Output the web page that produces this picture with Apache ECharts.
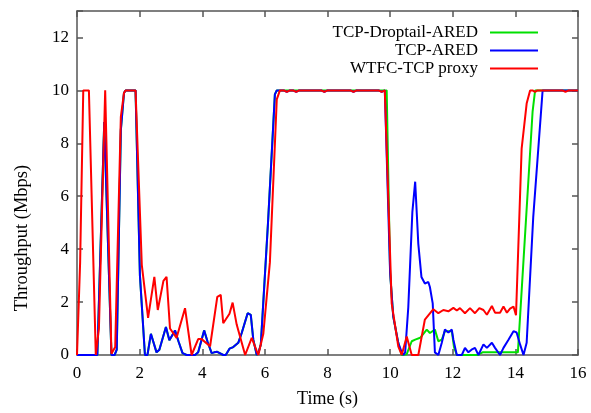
<!DOCTYPE html>
<html>
<head>
<meta charset="utf-8">
<script src="https://cdn.jsdelivr.net/npm/echarts@6/dist/echarts.min.js"></script>
<style>
html,body{margin:0;padding:0;background:#fff;}
#chart{width:591px;height:413px;}
</style>
</head>
<body>
<div id="chart"></div>
<script>
var seriesNames = ['TCP-Droptail-ARED', 'TCP-ARED', 'WTFC-TCP proxy'];
var xTicks = [0, 2, 4, 6, 8, 10, 12, 14, 16];
var yTicks = [0, 2, 4, 6, 8, 10, 12];

// WTFC-TCP proxy: [time (s), throughput (Mbps)]
var redData = [
  [0,0],[0.1,3.5],[0.2,10],[0.38,10],[0.6,0],[0.7,1],[0.9,10],[1.1,0.05],[1.22,0.3],[1.4,9],[1.5,9.9],[1.55,10],[1.87,10],
  [2.07,3.4],[2.27,1.4],[2.47,2.95],[2.58,1.7],[2.76,2.8],[2.86,2.95],[2.97,1.0],[3.18,0.65],[3.45,1.77],[3.66,0],
  [3.87,0.6],[3.98,0.6],[4.25,0.33],[4.48,2.2],[4.59,2.27],[4.67,1.2],[4.87,1.56],[4.97,1.98],[5.1,1.15],[5.37,0],
  [5.58,0.65],[5.79,0],[5.95,0.8],[6.16,3.5],[6.38,9.66],[6.48,10],[6.6,10],[6.7,9.94],[6.8,10],[6.9,10],[7.0,9.94],
  [7.1,10],[7.8,10],[7.9,9.94],[8.0,10],[8.73,10],[8.83,9.94],[8.93,10],[9.63,10],[9.73,9.94],[9.83,10],[9.89,10],
  [10.05,1.95],[10.26,0.33],[10.37,0],[10.53,0.7],[10.69,0],[10.9,0],[11.11,1.34],[11.38,1.73],[11.54,1.58],[11.7,1.7],
  [11.86,1.65],[12.02,1.78],[12.13,1.68],[12.23,1.77],[12.39,1.58],[12.55,1.77],[12.71,1.58],[12.85,1.77],[12.98,1.7],
  [13.09,1.52],[13.25,1.85],[13.35,1.6],[13.51,1.6],[13.62,1.83],[13.73,1.6],[13.83,1.75],[13.94,1.83],[14.02,1.5],
  [14.2,7.8],[14.36,9.5],[14.47,10],[14.55,10],[14.63,9.94],[14.7,10],[15.5,10],[15.6,9.94],[15.7,10],[16,10]
];

// TCP-ARED
var blueData = [
  [0,0],[0.65,0],[0.87,8.8],[1.1,0],[1.2,0],[1.27,0.2],[1.4,8.5],[1.5,9.9],[1.55,10],[1.87,10],[2.01,3.0],[2.17,0],
  [2.25,0],[2.36,0.8],[2.54,0.1],[2.63,0.2],[2.84,1.06],[2.95,0.56],[3.13,0.93],[3.24,0.52],[3.37,0.07],[3.5,0],
  [3.77,0],[3.87,0.1],[4.06,0.93],[4.17,0.5],[4.3,0.07],[4.38,0.1],[4.48,0.12],[4.67,0],[4.75,0],[4.87,0.24],
  [4.99,0.3],[5.15,0.46],[5.26,0.83],[5.45,1.58],[5.55,1.52],[5.63,0.58],[5.74,0],[5.8,0.1],[5.87,0.4],[6.1,5],
  [6.32,9.85],[6.38,10],[6.6,10],[6.7,9.94],[6.8,10],[6.9,10],[7.0,9.94],[7.1,10],[7.8,10],[7.9,9.94],[8.0,10],
  [8.73,10],[8.83,9.94],[8.93,10],[9.63,10],[9.73,9.94],[9.83,10],[9.89,10],[10.0,3.1],[10.1,1.45],[10.26,0.46],
  [10.37,0.1],[10.42,0],[10.48,0.1],[10.58,1.8],[10.71,5.4],[10.8,6.55],[10.9,4.2],[11.0,2.95],[11.11,2.7],
  [11.22,2.76],[11.27,2.57],[11.36,1.95],[11.43,0.1],[11.54,0],[11.65,0.46],[11.75,0.96],[11.86,0.85],[11.97,0.96],
  [12.02,0.58],[12.13,0],[12.29,0],[12.39,0.27],[12.5,0.1],[12.6,0.2],[12.71,0.27],[12.82,0],[12.98,0.4],[13.09,0.27],
  [13.25,0.46],[13.35,0.27],[13.51,0],[13.62,0.27],[13.78,0.58],[13.94,0.9],[14.04,0.85],[14.15,0.4],[14.26,0],
  [14.36,0.46],[14.57,5.2],[14.87,10],[16,10]
];

// TCP-Droptail-ARED
var greenData = [
  [0,0],[0.65,0],[0.87,8.8],[1.1,0],[1.2,0],[1.27,0.2],[1.4,8.5],[1.5,9.9],[1.55,10],[1.87,10],[2.01,3.0],[2.17,0],
  [2.25,0],[2.36,0.8],[2.54,0.1],[2.63,0.2],[2.84,1.06],[2.95,0.56],[3.13,0.93],[3.24,0.52],[3.37,0.07],[3.5,0],
  [3.77,0],[3.87,0.1],[4.06,0.93],[4.17,0.5],[4.3,0.07],[4.38,0.1],[4.48,0.12],[4.67,0],[4.75,0],[4.87,0.24],
  [4.99,0.3],[5.15,0.46],[5.26,0.83],[5.45,1.58],[5.55,1.52],[5.63,0.58],[5.74,0],[5.8,0.1],[5.87,0.4],[6.1,5],
  [6.32,9.85],[6.38,10],[9.89,10],[10.0,3.1],[10.1,1.45],[10.26,0.46],[10.37,0],[10.53,0.03],[10.69,0.52],
  [10.8,0.58],[10.96,0.65],[11.17,0.96],[11.27,0.83],[11.43,0.96],[11.54,0.52],[11.65,0.58],[11.75,0.9],
  [11.97,0.9],[12.04,0.3],[12.13,0],[12.8,0],[12.95,0.1],[14.08,0.1],[14.55,9.2],[14.63,10],[16,10]
];

var chart = echarts.init(document.getElementById('chart'), null, {renderer: 'canvas'});
var font = 'Liberation Serif';
var frame = '#555';
var lineIcon = 'path://M0,0L48,0L48,2L0,2Z';

function lineSeries(name, data, color) {
  return {
    name: name, type: 'line', data: data, showSymbol: false, symbol: 'none',
    animation: false, lineStyle: {color: color, width: 2}, itemStyle: {color: color}, z: 3
  };
}
function legendFor(name, top) {
  return {
    data: [{name: name, icon: lineIcon}], right: 53, top: top, orient: 'vertical', align: 'right',
    padding: 0, itemWidth: 48, itemHeight: 2, itemGap: 0,
    textStyle: {fontFamily: font, fontSize: 17, color: '#000', padding: [0, 7, 0, 0]},
    selectedMode: false
  };
}

chart.setOption({
  animation: false,
  backgroundColor: '#fff',
  grid: {left: 77, right: 13, top: 11, bottom: 54, show: false},
  legend: [legendFor(seriesNames[0], 24), legendFor(seriesNames[1], 42), legendFor(seriesNames[2], 60)],
  graphic: [{
    type: 'text', x: 22, y: 238, rotation: Math.PI / 2,
    style: {text: 'Throughput (Mbps)', fontFamily: font, fontSize: 18.5, fill: '#000',
      textAlign: 'center', textVerticalAlign: 'middle'}
  }],
  xAxis: [{
    type: 'value', min: xTicks[0], max: xTicks[xTicks.length - 1], interval: 2, position: 'bottom',
    name: 'Time (s)', nameLocation: 'middle', nameGap: 35,
    nameTextStyle: {fontFamily: font, fontSize: 18, color: '#000'},
    axisLine: {show: true, onZero: false, lineStyle: {color: frame, width: 1.5}},
    axisTick: {show: true, inside: true, length: 6, lineStyle: {color: frame, width: 1.5}},
    axisLabel: {fontFamily: font, fontSize: 17, color: '#000', margin: 10},
    splitLine: {show: false}
  }, {
    type: 'value', min: 0, max: 16, interval: 2, position: 'top',
    axisLine: {show: true, onZero: false, lineStyle: {color: frame, width: 1.5}},
    axisTick: {show: true, inside: true, length: 6, lineStyle: {color: frame, width: 1.5}},
    axisLabel: {show: false}, splitLine: {show: false}
  }],
  yAxis: [{
    type: 'value', min: 0, max: 13, interval: 2, position: 'left',
    axisLine: {show: true, onZero: false, lineStyle: {color: frame, width: 1.5}},
    axisTick: {show: true, inside: true, length: 6, lineStyle: {color: frame, width: 1.5}},
    axisLabel: {fontFamily: font, fontSize: 17, color: '#000', margin: 8,
      formatter: function (v) { return yTicks.indexOf(v) >= 0 ? String(v) : ''; }},
    splitLine: {show: false}
  }, {
    type: 'value', min: 0, max: 13, interval: 2, position: 'right',
    axisLine: {show: true, onZero: false, lineStyle: {color: frame, width: 1.5}},
    axisTick: {show: true, inside: true, length: 6, lineStyle: {color: frame, width: 1.5}},
    axisLabel: {show: false}, splitLine: {show: false}
  }],
  series: [
    lineSeries(seriesNames[0], greenData, '#00e000'),
    lineSeries(seriesNames[1], blueData, '#0000ff'),
    lineSeries(seriesNames[2], redData, '#ff0000')
  ]
});
</script>
</body>
</html>
